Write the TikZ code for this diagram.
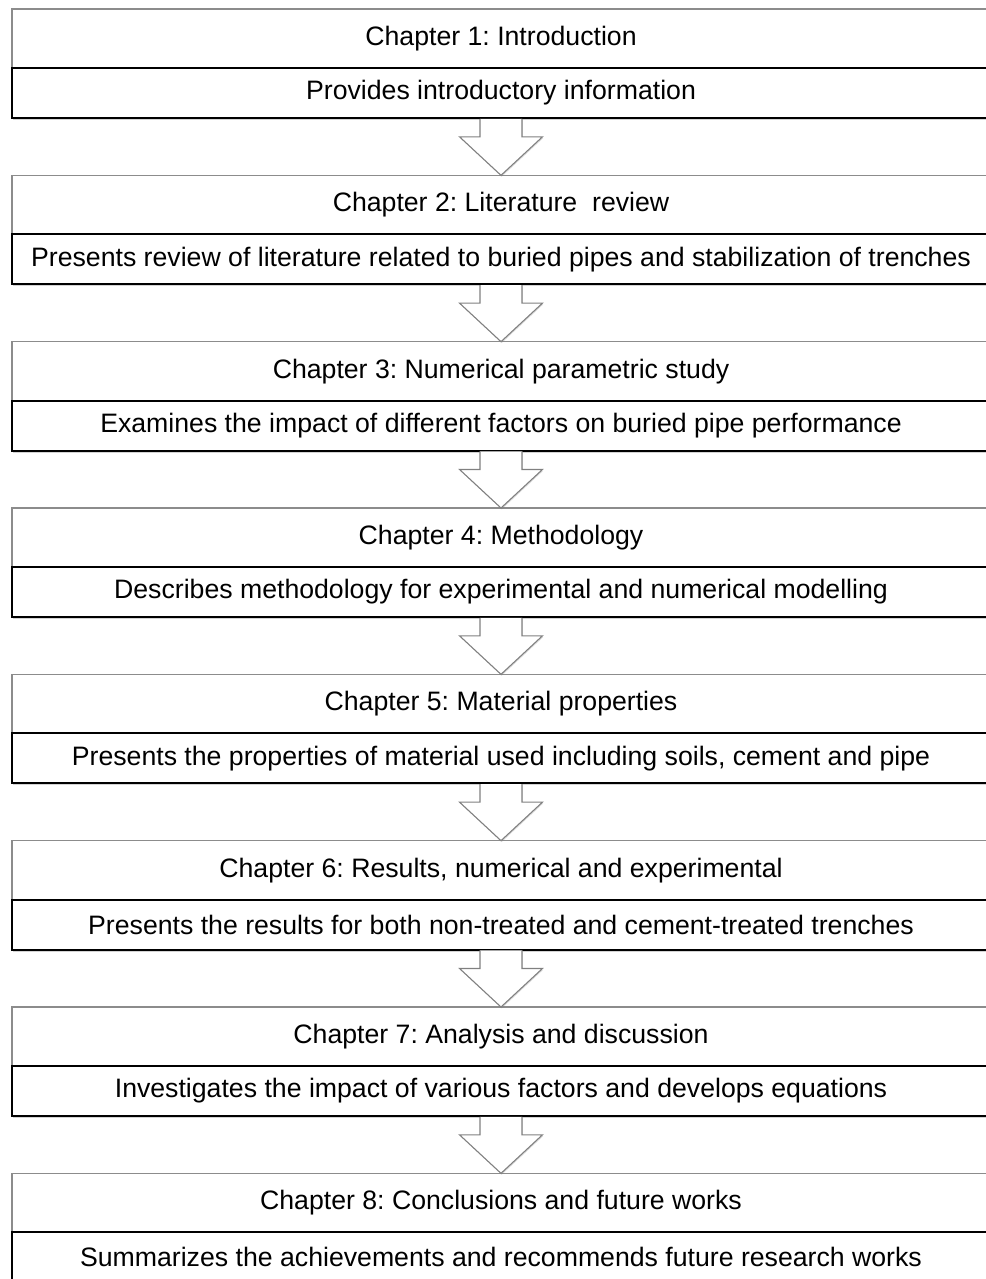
\documentclass[tikz,border=0pt]{standalone}
\usepackage{fontspec}
\setmainfont{Liberation Sans}
\usetikzlibrary{positioning,calc,shadows}
\frenchspacing

\begin{document}
\begin{tikzpicture}[
                            node distance=43pt,
                            font=\fontsize{20}{24}\selectfont,
                            semithick
                        ]
                        \tikzstyle{chaptitle}=[draw=black!45,line width=1pt,fill=white,outer sep=0pt,
                            minimum width=733.5pt,minimum height=44.25pt,inner sep=0pt]
                        \tikzstyle{chapdesc}=[draw=black,line width=1.5pt,fill=white,outer sep=0pt,
                            minimum width=733.5pt,minimum height=37.5pt,inner sep=0pt,
                            drop shadow={shadow xshift=0.6pt,shadow yshift=-1.6pt,opacity=0.35}]
                        \tikzstyle{flowarrow}=[draw=black!50,line width=0.8pt,fill=white,line join=miter,
                            drop shadow={shadow xshift=0.5pt,shadow yshift=-1pt,opacity=0.3}]

                        \useasboundingbox (0,0) rectangle (739.5pt,-959.25pt);

                        \node[chaptitle] (t1) at (375.75pt,-6.75pt) [anchor=north] {Chapter 1: Introduction};
                        \node[chapdesc]  (d1) [below=0pt of t1] {Provides introductory information};

                        \node[chaptitle] (t2) [below=of d1] {Chapter 2: Literature~ review};
                        \node[chapdesc]  (d2) [below=0pt of t2] {Presents review of literature related to buried pipes and stabilization of trenches};

                        \node[chaptitle] (t3) [below=of d2] {Chapter 3: Numerical parametric study};
                        \node[chapdesc]  (d3) [below=0pt of t3] {Examines the impact of different factors on buried pipe performance};

                        \node[chaptitle] (t4) [below=of d3] {Chapter 4: Methodology};
                        \node[chapdesc]  (d4) [below=0pt of t4] {Describes methodology for experimental and numerical modelling};

                        \node[chaptitle] (t5) [below=of d4] {Chapter 5: Material properties};
                        \node[chapdesc]  (d5) [below=0pt of t5] {Presents the properties of material used including soils, cement and pipe};

                        \node[chaptitle] (t6) [below=of d5] {Chapter 6: Results, numerical and experimental};
                        \node[chapdesc]  (d6) [below=0pt of t6] {Presents the results for both non-treated and cement-treated trenches};

                        \node[chaptitle] (t7) [below=of d6] {Chapter 7: Analysis and discussion};
                        \node[chapdesc]  (d7) [below=0pt of t7] {Investigates the impact of various factors and develops equations};

                        \node[chaptitle] (t8) [below=of d7] {Chapter 8: Conclusions and future works};
                        \node[chapdesc]  (d8) [below=0pt of t8] {Summarizes the achievements and recommends future research works};

                        % block arrows between the chapters
                        \foreach \a/\b in {d1/t2,d2/t3,d3/t4,d4/t5,d5/t6,d6/t7,d7/t8}
                            \draw[flowarrow] ($(\a.south)+(-15.75pt,-0.6pt)$) -- ++(0,-13.5pt) -- ++(-15.35pt,0)
                                -- (\b.north) -- ($(\a.south)+(31.1pt,-14.1pt)$) -- ++(-15.35pt,0) -- ++(0,13.5pt);
                    \end{tikzpicture}
\end{document}
